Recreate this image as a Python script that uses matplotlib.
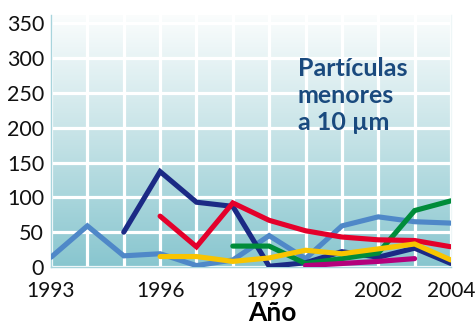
import numpy as np
import matplotlib.pyplot as plt
from matplotlib.colors import LinearSegmentedColormap

plt.rcParams['font.family'] = ['Lato', 'DejaVu Sans']

# PM10 series per monitoring station (ug/m3), yearly values
years_a = [1993, 1994, 1995, 1996, 1997, 1998, 1999, 2000, 2001, 2002, 2003, 2004]
vals_a = [14, 59, 16, 19, 2, 10, 45, 12, 59, 72, 65, 63]

years_b = [1995, 1996, 1997, 1998, 1999, 2000, 2001, 2002, 2003, 2004]
vals_b = [50, 137, 93, 87, 1, 6, 22, 14, 27, 5]

years_c = [1998, 1999, 2000, 2001, 2002, 2003, 2004]
vals_c = [30, 30, 5, 12, 20, 81, 95]

years_d = [1996, 1997, 1998, 1999, 2000, 2001, 2002, 2003, 2004]
vals_d = [73, 29, 92, 67, 52, 43, 39, 38, 29]

years_e = [1996, 1997, 1998, 1999, 2000, 2001, 2002, 2003, 2004]
vals_e = [15, 15, 8, 13, 24, 19, 26, 33, 10]

years_f = [2000, 2001, 2002, 2003]
vals_f = [2, 5, 8, 12]

xticks = [1993, 1996, 1999, 2002, 2004]
yticks = [0, 50, 100, 150, 200, 250, 300, 350]

fig = plt.figure(figsize=(4.75, 3.24), dpi=100)
ax = fig.add_axes([0.1074, 0.176, 0.842, 0.778])

ymax = 362
# vertical gradient background
cmap = LinearSegmentedColormap.from_list('bg', ['#88c6cf', '#c4e2e6', '#fbfdfd'])
grad = np.linspace(0, 1, 256).reshape(-1, 1)
ax.imshow(grad, cmap=cmap, origin='lower', aspect='auto',
          extent=[1993, 2004, 0, ymax], zorder=0)

for yr in range(1993, 2005):
    ax.axvline(yr, color='white', lw=2.3, zorder=1)
for v in yticks:
    ax.axhline(v, color='white', lw=2.3, zorder=1)

lw = 3.7
kw = dict(lw=lw, solid_capstyle='round', solid_joinstyle='miter', zorder=3)
ax.plot(years_a, vals_a, color='#4f88c8', **kw)
ax.plot(years_b, vals_b, color='#1b2a85', **kw)
ax.plot(years_c, vals_c, color='#008c3a', **kw)
ax.plot(years_d, vals_d, color='#e4002b', **kw)
ax.plot(years_e, vals_e, color='#f8c400', **kw)
ax.plot(years_f, vals_f, color='#b4007c', **kw)

ax.set_xlim(1993, 2004)
ax.set_ylim(0, ymax)
ax.set_xticks(xticks)
ax.set_yticks(yticks)
ax.tick_params(length=0, labelsize=15.5, colors='#111111')
ax.tick_params(axis='x', labelsize=15)
ax.tick_params(axis='y', pad=5)
ax.tick_params(axis='x', pad=10)

ax.spines['top'].set_visible(False)
for s in ['left', 'bottom', 'right']:
    ax.spines[s].set_color('#a8d4dc')
    ax.spines[s].set_linewidth(1)
ax.spines['right'].set_color('#eef6f7')

ax.set_xlabel('Año', fontsize=19, fontweight='bold')
ax.xaxis.set_label_coords(0.5525, -0.135)

ax.text(1999.79, 302, 'Partículas\nmenores\na 10 µm', color='#1a4a7e',
        fontsize=18, fontweight='bold', ha='left', va='top',
        linespacing=1.22, zorder=4)

fig.savefig('out.png', dpi=100)
